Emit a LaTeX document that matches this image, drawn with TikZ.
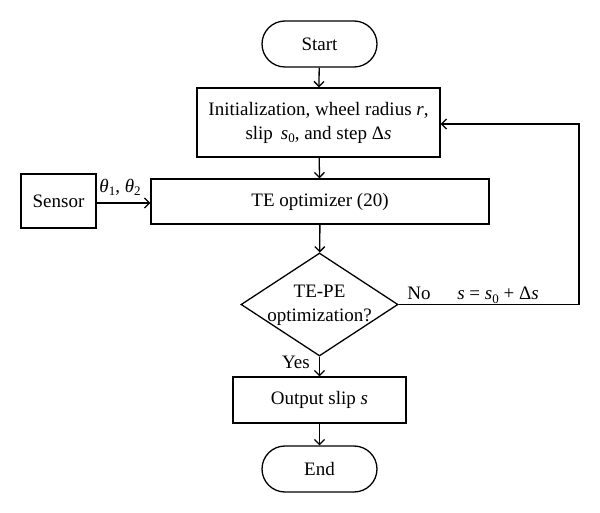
\documentclass[tikz,border=0pt]{standalone}
\usepackage{fontspec}
\setmainfont{Liberation Serif}
\usetikzlibrary{arrows.meta,shapes.geometric}
\newcommand\subsc[1]{\raisebox{-0.35ex}{\fontsize{13}{13}\selectfont #1}}
\begin{document}
\begin{tikzpicture}[x=1pt,y=-1pt,
  every node/.style={font=\fontsize{19}{24}\selectfont},
  box/.style={draw,line width=1.3pt,rectangle,inner sep=0pt,align=center},
  term/.style={draw,line width=1.3pt,rectangle,rounded corners=23pt,minimum width=115,minimum height=46,inner sep=0pt},
  dia/.style={draw,line width=1.3pt,diamond,minimum width=157,minimum height=103,inner sep=0pt},
  arr/.style={line width=1.3pt,-{Straight Barb[length=5pt,width=10pt]}},
  lbl/.style={inner sep=0pt}]
\useasboundingbox[fill=white] (0,0) rectangle (600,513);
\node[term] (start) at (319.5,44) {Start};
\node[box,minimum width=243,minimum height=69] (init) at (318.5,122.5)
  {Initialization, wheel radius \textit{r},\\ slip \,\textit{s}\subsc{0}, and step Δ\textit{s}};
\node[box,minimum width=338,minimum height=45] (te) at (320,201.5) {TE optimizer (20)};
\node[box,minimum width=75,minimum height=54] (sensor) at (58.5,201) {Sensor};
\node[dia,label={[align=center,yshift=-1pt]center:TE-PE\\optimization?}] (dec) at (319.5,304.5) {};
\node[box,minimum width=173,minimum height=46] (out) at (319.5,400) {Output slip \textit{s}};
\node[term] (end) at (319.5,469) {End};
\coordinate (c1) at (579,304.5);
\coordinate (c2) at (579,124);
\node[lbl] (theta) at (120,187) {\textit{θ}\subsc{1}, \textit{θ}\subsc{2}};
\node[lbl,anchor=base] (no) at (419,300) {No};
\node[lbl,anchor=base] (upd) at (498,300) {\textit{s} = \textit{s}\subsc{0} + Δ\textit{s}};
\node[lbl,anchor=base] (yes) at (296,368) {Yes};
\draw[arr] (start) -- (init);
\draw[arr] (init) -- (te);
\draw[arr] (sensor.east |- 0,203) -- (te.west |- 0,203);
\draw[arr] (te) -- (dec);
\draw[arr] (dec) -- (out);
\draw[arr] (out) -- (end);
\draw[arr] (dec.east) -- (c1) -- (c2) -- (c2 -| init.east);
\end{tikzpicture}
\end{document}
